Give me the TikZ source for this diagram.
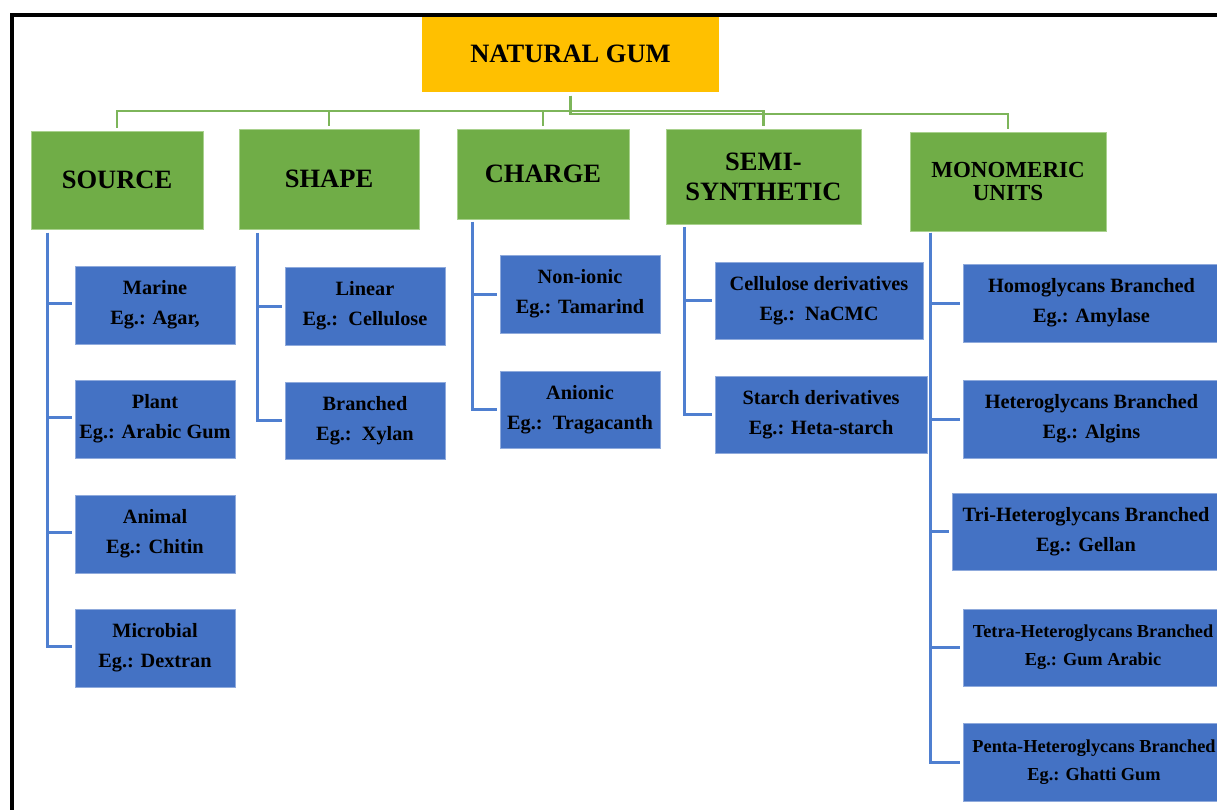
\documentclass[tikz,border=0pt]{standalone}
\usepackage{fontspec}
\setmainfont{Liberation Serif}
\usetikzlibrary{calc}
\definecolor{gumgold}{HTML}{FFC000}
\definecolor{catgreen}{HTML}{70AD47}
\definecolor{catgreenline}{HTML}{7DB55A}
\definecolor{catgreenedge}{HTML}{A9D18E}
\definecolor{itemblue}{HTML}{4472C4}
\definecolor{itemblueedge}{HTML}{8FAADC}
\definecolor{bluelink}{HTML}{4F7FD0}
\tikzset{
  rootbox/.style={fill=gumgold, inner sep=0pt, outer sep=0pt, anchor=north west,
    font=\fontsize{26.5}{28}\selectfont\bfseries},
  catbox/.style={fill=catgreen, draw=catgreenedge, line width=0.8pt, inner sep=0pt, outer sep=0pt,
    anchor=north west, align=center, font=\fontsize{26.5}{30}\selectfont\bfseries},
  itembox/.style={fill=itemblue, draw=itemblueedge, line width=0.8pt, inner sep=0pt, outer sep=0pt,
    anchor=north west, align=center, font=\fontsize{20.3}{30}\selectfont\bfseries},
  smallitem/.style={itembox, font=\fontsize{18.3}{28}\selectfont\bfseries},
  gline/.style={draw=catgreenline, line width=2.6pt},
  bline/.style={draw=bluelink, line width=3pt},
}
\begin{document}
\begin{tikzpicture}[x=1pt, y=-1pt]
\useasboundingbox (0,0) rectangle (1217,810);
\begin{scope}
\clip (0,0) rectangle (1217,810);

% top of the tree
\node[rootbox, minimum width=297pt, minimum height=76pt] (root) at (422,16) {NATURAL GUM};

% classification categories
\node[catbox, minimum width=172pt, minimum height=98pt] (src) at (31,131) {SOURCE};
\node[catbox, minimum width=180pt, minimum height=100pt] (shp) at (239,129) {SHAPE};
\node[catbox, minimum width=172pt, minimum height=90pt] (chg) at (457,129) {CHARGE};
\node[catbox, minimum width=195pt, minimum height=95pt] (semi) at (666,129) {SEMI-\\SYNTHETIC};
\node[catbox, minimum width=196pt, minimum height=99pt, font=\fontsize{23}{23}\selectfont\bfseries] (mono) at (910,132) {MONOMERIC\\UNITS};

% source
\node[itembox, minimum width=160pt, minimum height=78pt] (marine) at (75,266) {Marine\\Eg.: Agar,};
\node[itembox, minimum width=160pt, minimum height=78pt] (plant) at (75,380) {Plant\\Eg.: Arabic Gum};
\node[itembox, minimum width=160pt, minimum height=78pt] (animal) at (75,495) {Animal\\Eg.: Chitin};
\node[itembox, minimum width=160pt, minimum height=78pt] (microbial) at (75,609) {Microbial\\Eg.: Dextran};

% shape
\node[itembox, minimum width=160pt, minimum height=78pt] (linear) at (285,267) {Linear\\Eg.:\ \ Cellulose};
\node[itembox, minimum width=160pt, minimum height=77pt] (branched) at (285,382) {Branched\\Eg.:\ \ Xylan};

% charge
\node[itembox, minimum width=160pt, minimum height=78pt] (nonionic) at (500,255) {Non-ionic\\Eg.: Tamarind};
\node[itembox, minimum width=160pt, minimum height=77pt] (anionic) at (500,371) {Anionic\\Eg.:\ \ Tragacanth};

% semi-synthetic
\node[itembox, minimum width=208pt, minimum height=77pt] (cellulose) at (715,262) {Cellulose derivatives\\Eg.:\ \ NaCMC};
\node[itembox, minimum width=212pt, minimum height=77pt] (starch) at (715,376) {Starch derivatives\\Eg.: Heta-starch};

% monomeric units
\node[itembox, minimum width=257pt, minimum height=78pt] (homo) at (963,264) {Homoglycans Branched\\Eg.: Amylase};
\node[itembox, minimum width=257pt, minimum height=78pt] (hetero) at (963,380) {Heteroglycans Branched\\Eg.: Algins};
\node[itembox, minimum width=268pt, minimum height=77pt] (tri) at (952,493) {Tri-Heteroglycans Branched\\Eg.: Gellan};
\node[smallitem, minimum width=260pt, minimum height=77pt] (tetra) at (963,609) {Tetra-Heteroglycans Branched\\Eg.: Gum Arabic};
\node[smallitem, minimum width=262pt, minimum height=78pt] (penta) at (963,723) {Penta-Heteroglycans Branched\\Eg.: Ghatti Gum};

% green links from the root
\foreach \c in {src,shp,chg,semi}
  \draw[gline] ([yshift=-4pt]root.south) -- ++(0,15) -| ([yshift=3pt]\c.north);
\draw[gline] ([yshift=-4pt]root.south) -- ++(0,18) -| ([yshift=3pt]mono.north);

% blue links to the examples
\coordinate (srcT) at ([xshift=16pt,yshift=-4pt]src.south west);
\foreach \c in {marine,plant,animal,microbial}
  \draw[bline] (srcT) |- ([xshift=-3pt,yshift=2pt]\c.west);
\coordinate (shpT) at ([xshift=18pt,yshift=-4pt]shp.south west);
\foreach \c in {linear,branched}
  \draw[bline] (shpT) |- ([xshift=-3pt]\c.west);
\coordinate (chgT) at ([xshift=15pt,yshift=-3pt]chg.south west);
\foreach \c in {nonionic,anionic}
  \draw[bline] (chgT) |- ([xshift=-3pt]\c.west);
\coordinate (semiT) at ([xshift=18pt,yshift=-3pt]semi.south west);
\foreach \c in {cellulose,starch}
  \draw[bline] (semiT) |- ([xshift=-3pt]\c.west);
\coordinate (monoT) at ([xshift=20pt,yshift=-2pt]mono.south west);
\foreach \c in {homo,hetero,tri,tetra,penta}
  \draw[bline] (monoT) |- ([xshift=-3pt]\c.west);

% frame edges
\draw[line width=3.5pt] (12,810) -- (12,15) -- (1217,15);
\end{scope}
\end{tikzpicture}
\end{document}
